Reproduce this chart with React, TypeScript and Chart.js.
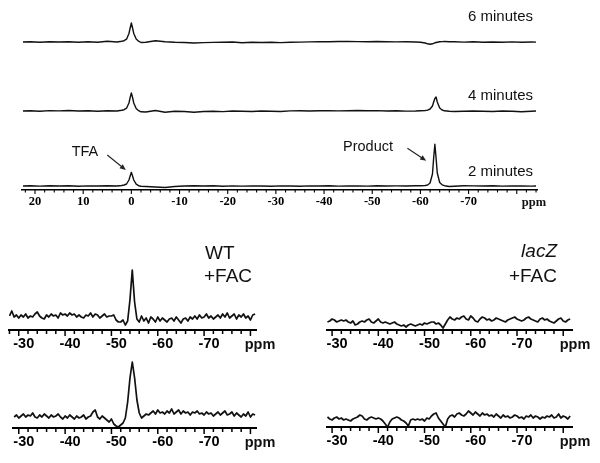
import React, { useEffect, useRef } from "react";
import { Chart, registerables } from "chart.js";

Chart.register(...registerables);

// ---------------- top panel: time course (ppm, intensity above own baseline) ----------------
const topPpm = [
  22.5, 21, 19, 17, 15, 13, 11, 9, 7, 5, 3,
  2, 1.5, 1, 0.5, 0.25, 0, -0.25, -0.5, -1, -1.5, -2,
  -3, -5, -7, -9, -11, -13, -15, -17, -19, -21, -23, -25, -27, -29, -31, -33, -35, -37, -39,
  -41, -43, -45, -47, -49, -51, -53, -55, -57, -59,
  -60, -61, -61.5, -62, -62.5, -62.75, -63, -63.25, -63.5, -64, -64.5, -65, -66,
  -67, -69, -71, -73, -75, -77, -79, -81, -83, -84,
];
const top6min = [
  0, 0.3, -0.2, 0.2, 0, 0.3, -0.2, 0.2, -0.3, 0.8, 0,
  0.8, 1.3, 2.8, 8.5, 14, 19, 14, 8.5, 3, 0.8, -0.5,
  -0.3, 1.3, 0.3, -0.3, -0.5, -1, -0.6, -0.4, -0.2, 0, -0.8, -0.3, -0.5, -0.3, -0.6, -0.2, -0.1, 0.1, 0.3,
  0.2, 0.5, 0.6, 0.4, 0.3, 0.5, 0.3, 0.1, 0.2, 0,
  -0.3, -1, -1.8, -2.3, -1.8, -1.3, -0.8, -0.5, -0.2, 0.2, 0.4, 0.5, 0.3,
  0.2, -0.1, 0.2, -0.3, 0, -0.2, 0.1, -0.2, 0, -0.1,
];
const top4min = [
  0, 0.2, -0.3, 0.4, 0.1, 0.5, 0, 0.3, -0.2, 0.3, 0,
  0.8, 1.3, 2.8, 8, 13.5, 18, 13.5, 8, 2.5, 0.3, -0.8,
  -1, 0.5, -1.2, -0.3, -0.5, -1.2, -0.5, -0.2, -0.6, 0, -0.3, -0.5, 0, -0.2, -0.5, 0.1, 0.3, 0, 0.2,
  0.4, 0.1, 0.3, 0.5, 0.2, 0.4, 0, 0.2, -0.1, 0,
  0.2, 0.5, 0.9, 2, 5, 9, 12.5, 14, 9, 3, 1, 0.2, -0.3,
  -0.5, -0.2, 0, -0.3, -0.5, 0, -0.2, -0.8, -0.3, 0,
];
const top2min = [
  0, 0.2, -0.1, 0.3, 0, 0.2, -0.2, 0.1, 0, 0.2, 0,
  0.5, 1, 2, 6, 10, 13.7, 10, 6, 1.8, 0.3, -0.3,
  -0.5, -1, -1.5, -0.5, 0, 0.3, 0, 0.2, -0.2, 0.1, -0.1, 0.1, 0, -0.2, 0.1, 0, -0.2, 0.1, 0,
  0.2, -0.1, 0.1, 0, -0.1, 0.2, 0, 0.1, 0, 0.2,
  0.3, 0.5, 1, 3, 12, 28, 41.7, 28, 13, 3.5, 1.2, 0.3, -0.5,
  -0.3, 0.3, 0.1, 0, 0.2, -0.1, 0.1, 0, -0.1, 0,
];
const topStackOffsets = [148, 79, 4];
const topSeriesNames = ["6 minutes", "4 minutes", "2 minutes"];
const topTickLabels = [20, 10, 0, -10, -20, -30, -40, -50, -60, -70];

// arrows: [ppm, intensity] of tail and head (in the top panel's data units)
const arrowTFA = { from: [5.0, 35], to: [1.15, 20] };
const arrowProduct = { from: [-57.3, 41.7], to: [-61.2, 29.3] };

// ---------------- bottom panels: 0.5 ppm sampling ----------------
const bottomStep = 0.5;
const wtUpperStart = -28;
const wtUpper = [
  14, 19, 13, 15, 12, 15, 13, 16, 12, 14,
  13, 16, 18, 14, 12, 11, 15, 13, 16, 14,
  15, 12, 17, 15, 16, 14, 17, 15, 16, 13,
  15, 13, 12, 15, 14, 17, 13, 16, 15, 12,
  14, 16, 13, 14, 14, 15, 10, 8, 8, 10,
  5, 9, 30, 60, 28, 11, 8, 14, 9, 12,
  7, 13, 11, 8, 13, 9, 12, 10, 8, 11,
  12, 9, 13, 10, 7, 11, 12, 9, 13, 11,
  14, 11, 15, 12, 13, 16, 12, 14, 11, 13,
  15, 12, 16, 13, 17, 12, 14, 16, 11, 15,
  13, 16, 12, 14, 10, 15, 16,
];
const wtLowerStart = -29;
const wtLower = [
  11, 13, 10, 12, 14, 11, 13, 12, 15, 11,
  10, 13, 11, 14, 12, 10, 13, 11, 12, 14,
  11, 9, 12, 10, 13, 11, 9, 12, 10, 11,
  13, 9, 11, 12, 16, 18, 11, 9, 12, 10,
  8, 6, 9, 4, 2, 1, 3, 5, 10, 26,
  50, 66, 50, 28, 15, 10, 12, 14, 13, 15,
  17, 14, 18, 15, 16, 14, 17, 15, 19, 14,
  16, 18, 14, 17, 15, 16, 13, 16, 15, 17,
  14, 15, 13, 16, 14, 15, 12, 14, 16, 13,
  15, 17, 13, 14, 16, 12, 15, 13, 11, 14,
  12, 16, 11, 14, 13,
];
const lacZUpperStart = -29;
const lacZUpper = [
  8, 9, 11, 10, 8, 9, 10, 9, 10, 8,
  7, 9, 5, 6, 8, 9, 8, 10, 11, 8,
  7, 9, 11, 8, 7, 8, 7, 6, 7, 8,
  6, 5, 4, 5, 3, 5, 6, 5, 4, 5,
  6, 5, 7, 6, 7, 8, 8, 6, 7, 5,
  2, 6, 10, 13, 11, 10, 12, 11, 13, 14,
  11, 10, 14, 12, 9, 8, 11, 13, 12, 10,
  11, 9, 10, 12, 11, 10, 9, 8, 10, 11,
  12, 13, 11, 10, 9, 10, 12, 13, 11, 10,
  9, 8, 11, 12, 10, 11, 9, 8, 7, 9,
  11, 12, 9, 8, 10, 11,
];
const lacZLowerStart = -29;
const lacZLower = [
  10, 8, 7, 9, 10, 8, 9, 7, 8, 7,
  6, 8, 9, 10, 12, 11, 8, 7, 9, 10,
  9, 8, 9, 8, 6, 3, 0, 5, 8, 9,
  10, 9, 7, 6, 4, 1, 7, 8, 7, 8,
  7, 8, 6, 9, 8, 11, 13, 14, 9, 6,
  3, 0, 8, 11, 12, 10, 13, 14, 12, 11,
  13, 16, 14, 12, 15, 13, 11, 14, 12, 13,
  11, 12, 10, 13, 11, 9, 12, 10, 11, 9,
  10, 12, 11, 9, 10, 8, 11, 10, 12, 9,
  11, 10, 8, 10, 9, 11, 10, 12, 9, 10,
  13, 9, 11, 10, 8, 11,
];
const bottomTickLabels = [-30, -40, -50, -60, -70];

// ---------------- generic spectrum canvas ----------------
type Series = { x: number[]; y: number[] };
type Arrow = { from: number[]; to: number[] };
type Props = {
  box: { left: number; top: number; width: number; height: number };
  padLeft: number;
  padRight: number;
  axisHeight: number;
  xMax: number;
  xMin: number;
  yMax: number;
  series: Series[];
  lineWidth: number;
  tickLabels: number[];
  tickFont: any;
  tickPadding: number;
  labelOffset: number;
  majorLen: number;
  minorLen: number;
  tickWidth: number;
  borderWidth: number;
  arrows?: Arrow[];
};

function SpectrumCanvas(p: Props) {
  const ref = useRef<HTMLCanvasElement | null>(null);
  useEffect(() => {
    if (!ref.current) return;
    const tickVals: number[] = [];
    for (let v = Math.floor(p.xMax / 2) * 2; v >= p.xMin - 1e-9; v -= 2) tickVals.push(v);

    const tickPlugin = {
      id: "tickMarks",
      afterDraw(chart: any) {
        const s = chart.scales.x;
        const ctx = chart.ctx;
        ctx.save();
        ctx.strokeStyle = "#000";
        ctx.lineWidth = p.tickWidth;
        s.ticks.forEach((t: any) => {
          const x = s.getPixelForValue(t.value);
          const len = Math.abs(t.value % 10) < 1e-6 ? p.majorLen : p.minorLen;
          ctx.beginPath();
          ctx.moveTo(x, s.top);
          ctx.lineTo(x, s.top + len);
          ctx.stroke();
        });
        ctx.restore();
      },
    };
    const arrowPlugin = {
      id: "arrows",
      afterDatasetsDraw(chart: any) {
        if (!p.arrows) return;
        const { x, y } = chart.scales;
        const ctx = chart.ctx;
        p.arrows.forEach((a) => {
          const x0 = x.getPixelForValue(a.from[0]);
          const y0 = y.getPixelForValue(a.from[1]);
          const x1 = x.getPixelForValue(a.to[0]);
          const y1 = y.getPixelForValue(a.to[1]);
          const ang = Math.atan2(y1 - y0, x1 - x0);
          ctx.save();
          ctx.strokeStyle = "#222";
          ctx.fillStyle = "#222";
          ctx.lineWidth = 1.1;
          ctx.beginPath();
          ctx.moveTo(x0, y0);
          ctx.lineTo(x1 - 4 * Math.cos(ang), y1 - 4 * Math.sin(ang));
          ctx.stroke();
          ctx.beginPath();
          ctx.moveTo(x1, y1);
          ctx.lineTo(x1 - 6 * Math.cos(ang) + 2.6 * Math.sin(ang), y1 - 6 * Math.sin(ang) - 2.6 * Math.cos(ang));
          ctx.lineTo(x1 - 6 * Math.cos(ang) - 2.6 * Math.sin(ang), y1 - 6 * Math.sin(ang) + 2.6 * Math.cos(ang));
          ctx.closePath();
          ctx.fill();
          ctx.restore();
        });
      },
    };

    const chart = new Chart(ref.current, {
      type: "line",
      data: {
        datasets: p.series.map((s) => ({
          data: s.x.map((xv, i) => ({ x: xv, y: s.y[i] })),
          borderColor: "#111",
          borderWidth: p.lineWidth,
          borderJoinStyle: "round",
          pointRadius: 0,
          fill: false,
          tension: 0,
        })),
      },
      options: {
        animation: false,
        responsive: false,
        maintainAspectRatio: false,
        events: [],
        layout: { padding: { left: p.padLeft, right: p.padRight, top: 0, bottom: 0 } },
        plugins: { legend: { display: false }, tooltip: { enabled: false } },
        scales: {
          x: {
            type: "linear",
            reverse: true,
            min: p.xMin,
            max: p.xMax,
            afterBuildTicks: (scale: any) => {
              scale.ticks = tickVals.map((v) => ({ value: v }));
            },
            afterFit: (scale: any) => {
              scale.height = p.axisHeight;
            },
            grid: { display: false, drawTicks: false },
            border: { display: true, color: "#000", width: p.borderWidth },
            ticks: {
              autoSkip: false,
              maxRotation: 0,
              minRotation: 0,
              padding: p.tickPadding,
              labelOffset: p.labelOffset,
              color: "#000",
              font: p.tickFont,
              callback: (v: any) => (p.tickLabels.some((l) => Math.abs(l - v) < 1e-6) ? String(Math.round(v)) : ""),
            },
          },
          y: { display: false, min: 0, max: p.yMax },
        },
      } as any,
      plugins: [tickPlugin, arrowPlugin],
    });
    return () => chart.destroy();
  }, []);
  return (
    <canvas
      ref={ref}
      width={p.box.width}
      height={p.box.height}
      style={{ position: "absolute", left: p.box.left, top: p.box.top, width: p.box.width, height: p.box.height }}
    />
  );
}

const gridOf = (start: number, n: number) => Array.from({ length: n }, (_, i) => start - bottomStep * i);

const sans = "'Liberation Sans', Arial, sans-serif";
const serif = "'Liberation Serif', 'Times New Roman', serif";

function Label(props: { text: string; style: React.CSSProperties }) {
  return (
    <div style={{ position: "absolute", whiteSpace: "nowrap", lineHeight: 1, color: "#111", ...props.style }}>
      {props.text}
    </div>
  );
}

export default function App() {
  const topSeries = [top6min, top4min, top2min].map((vals, k) => ({
    x: topPpm,
    y: vals.map((v) => v + topStackOffsets[k]),
  }));
  const bottomFont = { family: sans, weight: "bold", size: 14.5 };
  const common = {
    lineWidth: 1.7,
    tickLabels: bottomTickLabels,
    tickFont: bottomFont,
    tickPadding: 5,
    labelOffset: 5,
    majorLen: 6,
    minorLen: 4,
    tickWidth: 1.5,
    borderWidth: 2,
    yMax: 80,
  };
  const center: React.CSSProperties = { transform: "translate(-50%, -50%)" };
  const ppmBold: React.CSSProperties = { fontFamily: sans, fontWeight: "bold", fontSize: 14.5, ...center };
  return (
    <div style={{ position: "absolute", left: 0, top: 0, width: 600, height: 463, background: "#fff", overflow: "hidden" }}>
      <SpectrumCanvas
        box={{ left: 0, top: 0, width: 600, height: 212 }}
        padLeft={22}
        padRight={63}
        axisHeight={22}
        xMax={22.7}
        xMin={-84.2}
        yMax={190}
        series={topSeries}
        lineWidth={1.4}
        tickLabels={topTickLabels}
        tickFont={{ family: serif, weight: "bold", size: 12.5 }}
        tickPadding={4}
        labelOffset={0}
        majorLen={4}
        minorLen={2.5}
        tickWidth={1.1}
        borderWidth={1.5}
        arrows={[arrowTFA, arrowProduct]}
      />
      <SpectrumCanvas
        box={{ left: 0, top: 250, width: 300, height: 106 }}
        padLeft={9}
        padRight={44}
        axisHeight={26}
        xMax={-27.9}
        xMin={-81.2}
        series={[{ x: gridOf(wtUpperStart, wtUpper.length), y: wtUpper }]}
        {...common}
      />
      <SpectrumCanvas
        box={{ left: 0, top: 348, width: 300, height: 108 }}
        padLeft={13}
        padRight={44}
        axisHeight={28}
        xMax={-28.75}
        xMin={-81.2}
        series={[{ x: gridOf(wtLowerStart, wtLower.length), y: wtLower }]}
        {...common}
      />
      <SpectrumCanvas
        box={{ left: 300, top: 250, width: 300, height: 106 }}
        padLeft={27}
        padRight={28}
        axisHeight={26}
        xMax={-28.9}
        xMin={-81.9}
        series={[{ x: gridOf(lacZUpperStart, lacZUpper.length), y: lacZUpper }]}
        {...common}
      />
      <SpectrumCanvas
        box={{ left: 300, top: 347, width: 300, height: 108 }}
        padLeft={27}
        padRight={28}
        axisHeight={28}
        xMax={-28.9}
        xMin={-81.9}
        series={[{ x: gridOf(lacZLowerStart, lacZLower.length), y: lacZLower }]}
        {...common}
      />

      <Label text={topSeriesNames[0]} style={{ right: 67, top: 15, transform: "translateY(-50%)", fontFamily: sans, fontSize: 15 }} />
      <Label text={topSeriesNames[1]} style={{ right: 67, top: 94, transform: "translateY(-50%)", fontFamily: sans, fontSize: 15 }} />
      <Label text={topSeriesNames[2]} style={{ right: 67, top: 170, transform: "translateY(-50%)", fontFamily: sans, fontSize: 15 }} />
      <Label text="TFA" style={{ left: 85, top: 151, fontFamily: sans, fontSize: 14.5, ...center }} />
      <Label text="Product" style={{ left: 368, top: 146, fontFamily: sans, fontSize: 14.5, ...center }} />
      <Label text="ppm" style={{ left: 534, top: 202, fontFamily: serif, fontWeight: "bold", fontSize: 12.5, ...center }} />

      <Label text="WT" style={{ left: 205, top: 252, transform: "translateY(-50%)", fontFamily: sans, fontSize: 19 }} />
      <Label text="+FAC" style={{ left: 204, top: 275, transform: "translateY(-50%)", fontFamily: sans, fontSize: 19 }} />
      <div
        style={{ position: "absolute", right: 43, top: 250, transform: "translateY(-50%)", fontFamily: sans, fontSize: 19, fontStyle: "italic", lineHeight: 1, color: "#111" }}
      >
        lacZ
      </div>
      <Label text="+FAC" style={{ right: 43, top: 275, transform: "translateY(-50%)", fontFamily: sans, fontSize: 19 }} />

      <Label text="ppm" style={{ left: 260, top: 344, ...ppmBold }} />
      <Label text="ppm" style={{ left: 260, top: 442, ...ppmBold }} />
      <Label text="ppm" style={{ left: 575, top: 344, ...ppmBold }} />
      <Label text="ppm" style={{ left: 575, top: 441, ...ppmBold }} />
    </div>
  );
}
